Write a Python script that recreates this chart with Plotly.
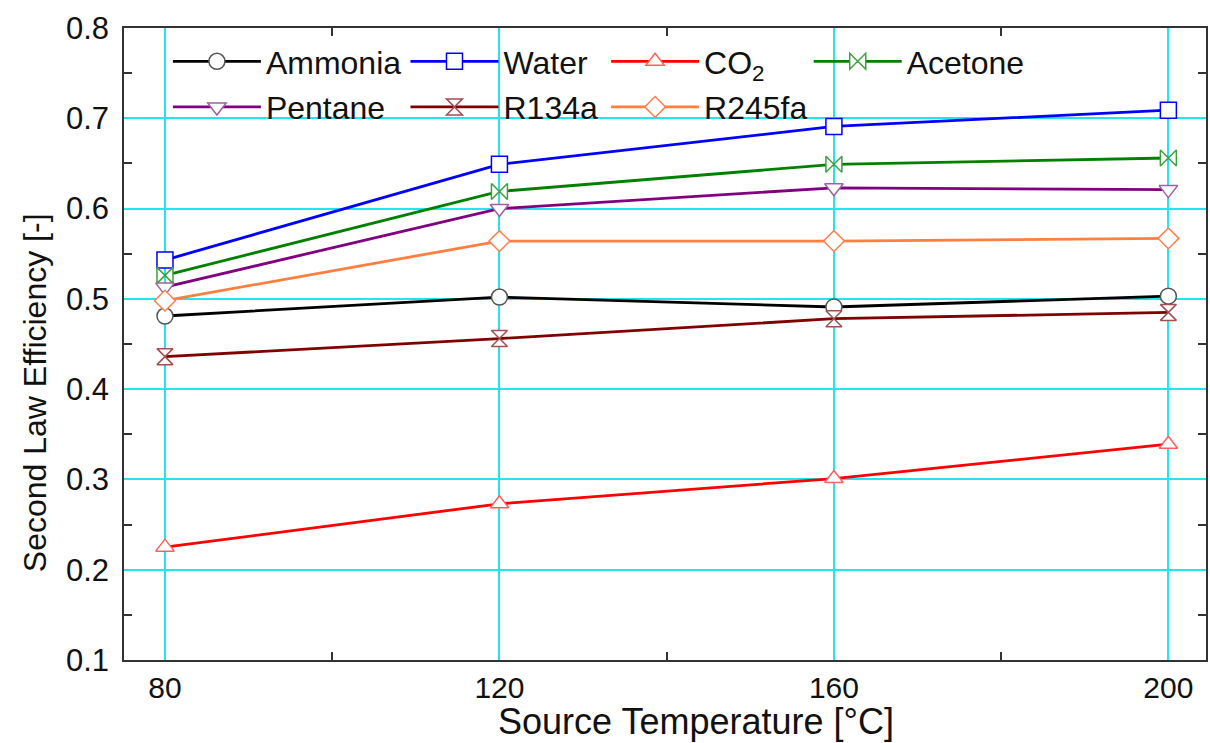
import plotly.graph_objects as go

temps = [80, 120, 160, 200]
ammonia = [0.481, 0.502, 0.491, 0.503]
water = [0.543, 0.649, 0.691, 0.709]
co2 = [0.225, 0.273, 0.301, 0.339]
acetone = [0.526, 0.619, 0.649, 0.656]
pentane = [0.513, 0.600, 0.623, 0.621]
r134a = [0.436, 0.456, 0.478, 0.485]
r245fa = [0.498, 0.564, 0.564, 0.567]

series = [
    ("Ammonia", ammonia, "#000000", "#555555", "circle", "legend"),
    ("Water", water, "#0000FF", "#0000FF", "square", "legend2"),
    ("CO<sub>2</sub>", co2, "#FF0000", "#FF6060", "triangle-up", "legend3"),
    ("Acetone", acetone, "#008000", "#40A040", "bowtie", "legend4"),
    ("Pentane", pentane, "#800080", "#A060A0", "triangle-down", "legend"),
    ("R134a", r134a, "#800000", "#A05050", "hourglass", "legend2"),
    ("R245fa", r245fa, "#FF7F40", "#FF7F50", "diamond", "legend3"),
]

FONT = "Liberation Sans, Arial, sans-serif"
L, T, PW, PH = 124, 28, 1084, 632

def px(xp):
    return (xp - L) / PW

def py(yp):
    return 1 - (yp - T) / PH

fig = go.Figure()
for name, vals, lc, mc, sym, leg in series:
    fig.add_trace(go.Scatter(
        x=temps, y=vals, name=name, mode="lines+markers",
        line=dict(color=lc, width=2.8),
        marker=dict(symbol=sym, size=16, color="white", line=dict(color=mc, width=1.5)),
        legend=leg, legendgroup=name,
    ))

def leg(xpx):
    return dict(
        x=px(xpx), xanchor="left", y=py(34), yanchor="top",
        bgcolor="rgba(0,0,0,0)", borderwidth=0, font=dict(family=FONT, size=32, color="#111"),
        itemwidth=88, traceorder="grouped", tracegroupgap=1,
        orientation="v",
    )

# white backgrounds behind legend columns (above grid, below traces)
shapes = []
for x0, x1 in [(170, 396), (410, 596), (607, 815)]:
    shapes.append(dict(type="rect", xref="paper", yref="paper", layer="between",
                       x0=px(x0), x1=px(x1), y0=py(121), y1=py(40),
                       fillcolor="white", line=dict(width=0)))

fig.update_layout(
    width=1210, height=743,
    margin=dict(l=L, r=2, t=T, b=83),
    paper_bgcolor="white", plot_bgcolor="white",
    font=dict(family=FONT, size=31, color="#111"),
    showlegend=True,
    legend=leg(168), legend2=leg(406), legend3=leg(607), legend4=leg(810),
    shapes=shapes,
    xaxis=dict(
        range=[75.1, 204.5], tickmode="array", tickvals=temps, ticktext=[str(t) for t in temps],
        showgrid=True, gridcolor="#22E5EE", gridwidth=1.5,
        showline=True, linecolor="#333", linewidth=1.5, mirror="allticks",
        ticks="", zeroline=False,
        minor=dict(tickvals=[100, 140, 180], ticks="inside", ticklen=8, tickcolor="#333", tickwidth=1.5, showgrid=False),
        tickfont=dict(size=30), ticklabelstandoff=0,
    ),
    yaxis=dict(
        range=[0.1, 0.8], tickmode="array", tickvals=[0.1, 0.2, 0.3, 0.4, 0.5, 0.6, 0.7, 0.8],
        ticktext=["0.1", "0.2", "0.3", "0.4", "0.5", "0.6", "0.7", "0.8"],
        showgrid=True, gridcolor="#22E5EE", gridwidth=1.5,
        showline=True, linecolor="#333", linewidth=1.5, mirror="allticks",
        ticks="", zeroline=False,
        minor=dict(tickvals=[0.15, 0.25, 0.35, 0.45, 0.55, 0.65, 0.75], ticks="inside", ticklen=8, tickcolor="#333", tickwidth=1.5, showgrid=False),
        tickfont=dict(size=31), ticklabelstandoff=7,
    ),
    annotations=[
        dict(text="Source Temperature [°C]", xref="paper", yref="paper",
             x=px(697), y=py(721), xanchor="center", yanchor="middle", showarrow=False,
             font=dict(family=FONT, size=36, color="#111")),
        dict(text="Second Law Efficiency [-]", xref="paper", yref="paper", textangle=-90,
             x=px(35), y=py(393), xanchor="center", yanchor="middle", showarrow=False,
             font=dict(family=FONT, size=32, color="#111")),
    ],
)

fig.write_html("out.html")
